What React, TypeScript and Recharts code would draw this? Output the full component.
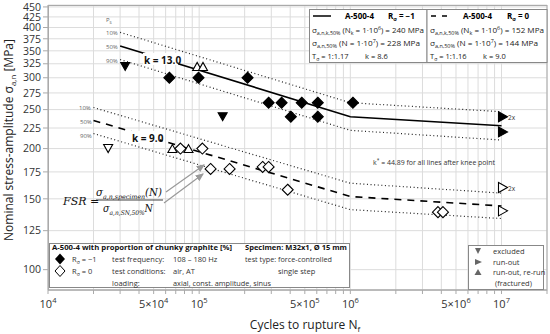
import React from "react";
import { ComposedChart, Line, Scatter, XAxis, YAxis, CartesianGrid } from "recharts";

// axis ticks
const xGridTicks = [
  10000, 20000, 30000, 40000, 50000, 60000, 70000, 80000, 90000,
  100000, 200000, 300000, 400000, 500000, 600000, 700000, 800000, 900000,
  1000000, 2000000, 3000000, 4000000, 5000000, 6000000, 7000000, 8000000, 9000000,
  10000000, 20000000,
];
const xLabelTicks = [10000, 50000, 100000, 500000, 1000000, 5000000, 10000000];
const xLabelBase = ["10", "5×10", "10", "5×10", "10", "5×10", "10"];
const xLabelExp = ["4", "4", "5", "5", "6", "6", "7"];
const yTicks = [100, 125, 150, 175, 200, 225, 250, 275, 300, 325, 350, 375, 400, 425, 450];

// S-N curves, R = -1
const rNeg1P50 = [{ N: 30000, S: 360 }, { N: 1000000, S: 240 }, { N: 10000000, S: 228 }];
const rNeg1P10 = [{ N: 30000, S: 389 }, { N: 1000000, S: 260 }, { N: 10000000, S: 247 }];
const rNeg1P90 = [{ N: 30000, S: 333 }, { N: 1000000, S: 222 }, { N: 10000000, S: 210 }];
// S-N curves, R = 0
const r0P50 = [{ N: 20000, S: 235 }, { N: 1000000, S: 152 }, { N: 10000000, S: 144 }];
const r0P10 = [{ N: 20000, S: 253 }, { N: 1000000, S: 164 }, { N: 10000000, S: 155 }];
const r0P90 = [{ N: 20000, S: 218 }, { N: 1000000, S: 141 }, { N: 10000000, S: 134 }];

// test results, R = -1
const rNeg1Fractured = [
  { N: 63500, S: 300 }, { N: 99000, S: 300 }, { N: 209000, S: 300 },
  { N: 288000, S: 260 }, { N: 351000, S: 260 }, { N: 477000, S: 260 }, { N: 609000, S: 260 },
  { N: 404000, S: 240 }, { N: 609000, S: 240 }, { N: 1040000, S: 260 },
];
const rNeg1Excluded = [{ N: 32400, S: 320 }, { N: 143000, S: 240 }];
const rNeg1ReRun = [{ N: 97000, S: 320 }, { N: 106000, S: 320 }];
const rNeg1RunOut = [{ N: 10000000, S: 240 }, { N: 10000000, S: 220 }];
// test results, R = 0
const r0Fractured = [
  { N: 75200, S: 200 }, { N: 105000, S: 200 }, { N: 119000, S: 178 }, { N: 159000, S: 178 },
  { N: 263000, S: 180 }, { N: 288000, S: 180 }, { N: 385000, S: 158 },
  { N: 3800000, S: 139 }, { N: 4100000, S: 139 },
];
const r0Excluded = [{ N: 25000, S: 200 }];
const r0ReRun = [{ N: 66500, S: 200 }, { N: 85000, S: 200 }];
const r0RunOut = [{ N: 10000000, S: 160 }, { N: 10000000, S: 140 }];

const marker = (kind: string, fill: string) => (p: any) => {
  const { cx, cy } = p;
  if (cx == null || cy == null) return <g />;
  let d = "";
  if (kind === "diamond") d = `M${cx},${cy - 5.5}L${cx + 5.5},${cy}L${cx},${cy + 5.5}L${cx - 5.5},${cy}Z`;
  if (kind === "down") d = `M${cx - 4.5},${cy - 4}L${cx + 4.5},${cy - 4}L${cx},${cy + 4}Z`;
  if (kind === "up") d = `M${cx - 4.5},${cy + 4}L${cx + 4.5},${cy + 4}L${cx},${cy - 4}Z`;
  if (kind === "right") d = `M${cx - 3},${cy - 5}L${cx + 6},${cy}L${cx - 3},${cy + 5}Z`;
  return <path d={d} fill={fill} stroke="#000" strokeWidth={1.1} />;
};

const XTick = (props: any) => {
  const { x, y, payload } = props;
  const i = xLabelTicks.indexOf(payload.value);
  if (i < 0) return <g />;
  return (
    <text x={x} y={y + 12} textAnchor="middle" fontSize={11} fill="#333">
      {xLabelBase[i]}
      <tspan dy={-5} fontSize={7.5}>{xLabelExp[i]}</tspan>
    </text>
  );
};

const dotted = { stroke: "#222", strokeWidth: 1.2, strokeDasharray: "1 2.6" };

function Overlay() {
  const g = "#888";
  return (
    <svg width={550} height={334} style={{ position: "absolute", left: 0, top: 0, pointerEvents: "none" }}>
      <defs>
        <marker id="arr" markerWidth="8" markerHeight="8" refX="6" refY="3" orient="auto">
          <path d="M0,0L7,3L0,6Z" fill="#999" />
        </marker>
      </defs>
      <rect x={48.5} y={5.5} width={498.5} height={284.5} fill="none" stroke="#aaa" />

      {/* axis titles */}
      <text transform="translate(13,140) rotate(-90)" textAnchor="middle" fontSize={12} fill="#222">
        Nominal stress-amplitude σ<tspan dy={3} fontSize={8}>a,n</tspan><tspan dy={-3}> [MPa]</tspan>
      </text>
      <text x={305} y={329} textAnchor="middle" fontSize={12} fill="#222">
        Cycles to rupture N<tspan dy={3} fontSize={8}>f</tspan>
      </text>

      {/* curve labels */}
      <text x={106} y={22} fontSize={6} fill="#666">P<tspan dy={1.5} fontSize={4.5}>s</tspan></text>
      <text x={106} y={35} fontSize={6} fill="#666">10%</text>
      <text x={106} y={49} fontSize={6} fill="#666">50%</text>
      <text x={106} y={63} fontSize={6} fill="#666">90%</text>
      <text x={79} y={110} fontSize={6} fill="#666">10%</text>
      <text x={80} y={124} fontSize={6} fill="#666">50%</text>
      <text x={80} y={138} fontSize={6} fill="#666">90%</text>
      <rect x={143} y={53} width={35} height={12} fill="#fff" />
      <text x={144} y={63.5} fontSize={10} fontWeight="bold" fill="#111">k = 13.0</text>
      <rect x={130} y={131} width={30} height={12} fill="#fff" />
      <text x={132} y={141.5} fontSize={10} fontWeight="bold" fill="#111">k = 9.0</text>
      <text x={373} y={164.5} fontSize={7} fill="#333" textLength={122} lengthAdjust="spacingAndGlyphs">
        k<tspan dy={-3} fontSize={5}>*</tspan><tspan dy={3}> = 44.89 for all lines after knee point</tspan>
      </text>
      <text x={508} y={120} fontSize={6.5} fill="#333">2x</text>
      <text x={508} y={191} fontSize={6.5} fill="#333">2x</text>

      {/* FSR formula */}
      <g fontFamily="'DejaVu Serif', serif" fontStyle="italic" fill="#111">
        <text x={63} y={205} fontSize={11}>FSR =</text>
        <text x={96} y={196} fontSize={10.5} textLength={66} lengthAdjust="spacingAndGlyphs">σ<tspan dy={2.5} fontSize={6.5}>a,n,specimen</tspan><tspan dy={-2.5}>(N)</tspan></text>
        <text x={103} y={212} fontSize={10.5} textLength={50} lengthAdjust="spacingAndGlyphs">σ<tspan dy={2.5} fontSize={6.5}>a,n,SN,50%</tspan><tspan dy={-2.5}>N</tspan></text>
      </g>
      <line x1={96} y1={200} x2={163} y2={200} stroke="#111" strokeWidth={0.8} />
      <line x1={166} y1={192} x2={204} y2={165} stroke="#999" strokeWidth={1.2} markerEnd="url(#arr)" />
      <line x1={164} y1={203} x2={203} y2={174} stroke="#999" strokeWidth={1.2} markerEnd="url(#arr)" />

      {/* legend boxes top */}
      <rect x={309.5} y={9.5} width={117.5} height={53} fill="#fff" stroke={g} />
      <rect x={427} y={9.5} width={120} height={53} fill="#fff" stroke={g} />
      <line x1={313} y1={16} x2={331} y2={16} stroke="#000" strokeWidth={1.5} />
      <text x={345} y={19} fontSize={8} fontWeight="bold">A-500-4</text>
      <text x={388} y={19} fontSize={8} fontWeight="bold">R<tspan dy={2} fontSize={5.5}>σ</tspan><tspan dy={-2}> = −1</tspan></text>
      <text x={312} y={32.5} fontSize={7.5} fill="#222" textLength={112} lengthAdjust="spacingAndGlyphs">σ<tspan dy={2} fontSize={5}>a,n,k,50%</tspan><tspan dy={-2}> (N</tspan><tspan dy={2} fontSize={5}>k</tspan><tspan dy={-2}> = 1·10</tspan><tspan dy={-3} fontSize={5}>6</tspan><tspan dy={3}>) = 240 MPa</tspan></text>
      <text x={312} y={46} fontSize={7.5} fill="#222" textLength={108} lengthAdjust="spacingAndGlyphs">σ<tspan dy={2} fontSize={5}>a,n,50%</tspan><tspan dy={-2}> (N = 1·10</tspan><tspan dy={-3} fontSize={5}>7</tspan><tspan dy={3}>) = 228 MPa</tspan></text>
      <text x={312} y={59} fontSize={7.5} fill="#222">T<tspan dy={2} fontSize={5}>σ</tspan><tspan dy={-2}> = 1:1.17</tspan></text>
      <text x={365} y={59} fontSize={7.5} fill="#222">k = 8.6</text>

      <line x1={431} y1={16} x2={447} y2={16} stroke="#000" strokeWidth={1.5} strokeDasharray="5 6" />
      <text x={463} y={19} fontSize={8} fontWeight="bold">A-500-4</text>
      <text x={507} y={19} fontSize={8} fontWeight="bold">R<tspan dy={2} fontSize={5.5}>σ</tspan><tspan dy={-2}> = 0</tspan></text>
      <text x={430} y={32.5} fontSize={7.5} fill="#222" textLength={114} lengthAdjust="spacingAndGlyphs">σ<tspan dy={2} fontSize={5}>a,n,k,50%</tspan><tspan dy={-2}> (N</tspan><tspan dy={2} fontSize={5}>k</tspan><tspan dy={-2}> = 1·10</tspan><tspan dy={-3} fontSize={5}>6</tspan><tspan dy={3}>) = 152 MPa</tspan></text>
      <text x={430} y={46} fontSize={7.5} fill="#222" textLength={108} lengthAdjust="spacingAndGlyphs">σ<tspan dy={2} fontSize={5}>a,n,50%</tspan><tspan dy={-2}> (N = 1·10</tspan><tspan dy={-3} fontSize={5}>7</tspan><tspan dy={3}>) = 144 MPa</tspan></text>
      <text x={430} y={59} fontSize={7.5} fill="#222">T<tspan dy={2} fontSize={5}>σ</tspan><tspan dy={-2}> = 1:1.16</tspan></text>
      <text x={483} y={59} fontSize={7.5} fill="#222">k = 9.0</text>

      {/* legend box bottom left */}
      <rect x={49.5} y={243.5} width={300} height={44} fill="#fff" stroke={g} />
      <text x={52} y={250} fontSize={7.5} fontWeight="bold" fill="#111" textLength={180} lengthAdjust="spacingAndGlyphs">A-500-4 with proportion of chunky graphite [%]</text>
      <text x={245} y={250} fontSize={7.5} fontWeight="bold" fill="#111" textLength={102} lengthAdjust="spacingAndGlyphs">Specimen: M32x1, Ø 15 mm</text>
      <path d="M60,253.5L65,259L60,264.5L55,259Z" fill="#000" />
      <path d="M60,265.5L65,271L60,276.5L55,271Z" fill="#fff" stroke="#000" strokeWidth={1} />
      <g fontSize={7.5} fill="#333">
        <text x={72} y={262}>R<tspan dy={2} fontSize={5}>σ</tspan><tspan dy={-2}> = −1</tspan></text>
        <text x={72} y={274}>R<tspan dy={2} fontSize={5}>σ</tspan><tspan dy={-2}> = 0</tspan></text>
        <text x={112} y={262}>test frequency:</text>
        <text x={112} y={274}>test conditions:</text>
        <text x={112} y={286}>loading:</text>
        <text x={173} y={262}>108 – 180 Hz</text>
        <text x={173} y={274}>air, AT</text>
        <text x={173} y={286} textLength={98} lengthAdjust="spacingAndGlyphs">axial, const. amplitude, sinus</text>
        <text x={245} y={262} textLength={87} lengthAdjust="spacingAndGlyphs">test type: force-controlled</text>
        <text x={278} y={274}>single step</text>
      </g>

      {/* legend box bottom right */}
      <rect x={468.5} y={245.5} width={75} height={44} fill="#fff" stroke={g} />
      <path d="M475,248L481,248L478,254Z" fill="#666" />
      <path d="M475,259L482,262L475,265Z" fill="#666" />
      <path d="M474.5,275L481.5,275L478,269Z" fill="#666" />
      <g fontSize={7.5} fill="#333">
        <text x={493} y={254}>excluded</text>
        <text x={493} y={264.5}>run-out</text>
        <text x={493} y={275}>run-out, re-run</text>
        <text x={495} y={286}>(fractured)</text>
      </g>
    </svg>
  );
}

export default function App() {
  return (
    <div style={{ position: "absolute", left: 0, top: 0, width: 550, height: 334, fontFamily: "'Open Sans', sans-serif", background: "#fff" }}>
      <ComposedChart width={550} height={334} margin={{ top: 5, right: 3, bottom: 0, left: 0 }}>
        <CartesianGrid stroke="#dcdcdc" strokeWidth={1} />
        <XAxis
          dataKey="N"
          type="number"
          scale="log"
          domain={[10000, 20000000]}
          allowDataOverflow
          ticks={xGridTicks}
          interval={0}
          tick={<XTick />}
          tickSize={4}
          tickLine={{ stroke: "#aaa" }}
          axisLine={{ stroke: "#aaa" }}
          height={44}
        />
        <YAxis
          dataKey="S"
          type="number"
          scale="log"
          domain={[89, 455]}
          allowDataOverflow
          ticks={yTicks}
          interval={0}
          width={48}
          tickSize={5}
          tick={{ fontSize: 10.5, fill: "#333" }}
          tickLine={{ stroke: "#aaa" }}
          axisLine={{ stroke: "#aaa" }}
        />
        <Line data={rNeg1P10} dataKey="S" dot={false} isAnimationActive={false} {...dotted} />
        <Line data={rNeg1P90} dataKey="S" dot={false} isAnimationActive={false} {...dotted} />
        <Line data={rNeg1P50} dataKey="S" dot={false} isAnimationActive={false} stroke="#000" strokeWidth={1.6} />
        <Line data={r0P10} dataKey="S" dot={false} isAnimationActive={false} {...dotted} />
        <Line data={r0P90} dataKey="S" dot={false} isAnimationActive={false} {...dotted} />
        <Line data={r0P50} dataKey="S" dot={false} isAnimationActive={false} stroke="#000" strokeWidth={1.6} strokeDasharray="7 6" />
        <Scatter data={rNeg1Fractured} dataKey="S" isAnimationActive={false} shape={marker("diamond", "#000")} />
        <Scatter data={rNeg1Excluded} dataKey="S" isAnimationActive={false} shape={marker("down", "#000")} />
        <Scatter data={rNeg1ReRun} dataKey="S" isAnimationActive={false} shape={marker("up", "#fff")} />
        <Scatter data={rNeg1RunOut} dataKey="S" isAnimationActive={false} shape={marker("right", "#000")} />
        <Scatter data={r0Fractured} dataKey="S" isAnimationActive={false} shape={marker("diamond", "#fff")} />
        <Scatter data={r0Excluded} dataKey="S" isAnimationActive={false} shape={marker("down", "#fff")} />
        <Scatter data={r0ReRun} dataKey="S" isAnimationActive={false} shape={marker("up", "#fff")} />
        <Scatter data={r0RunOut} dataKey="S" isAnimationActive={false} shape={marker("right", "#fff")} />
      </ComposedChart>
      <Overlay />
    </div>
  );
}
